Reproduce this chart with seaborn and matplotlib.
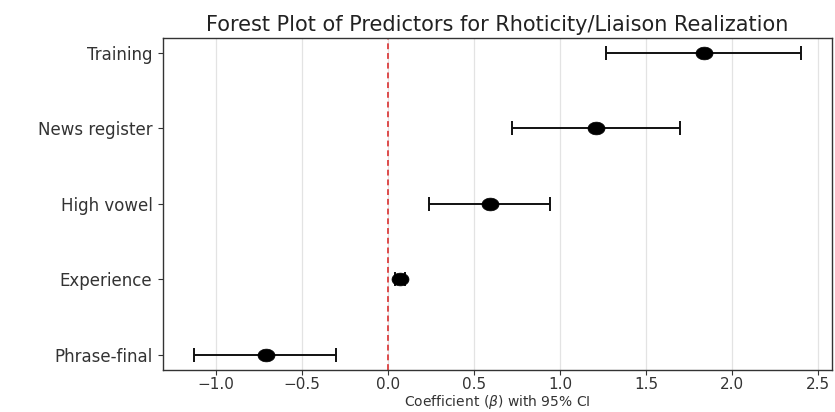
import numpy as np
import pandas as pd
import matplotlib
matplotlib.use("Agg")
import matplotlib.pyplot as plt
import seaborn as sns

# predictors, top to bottom as drawn
predictors = ["Training", "News register", "High vowel", "Experience", "Phrase-final"]
coef = [1.84, 1.21, 0.59, 0.07, -0.71]
ci_low = [1.27, 0.72, 0.24, 0.04, -1.13]
ci_high = [2.40, 1.70, 0.94, 0.10, -0.30]
x_ticks = [-1.0, -0.5, 0.0, 0.5, 1.0, 1.5, 2.0, 2.5]

df = pd.DataFrame({"predictor": predictors, "coef": coef,
                   "low": ci_low, "high": ci_high})
df["ypos"] = np.arange(len(df))[::-1]

sns.set_style("whitegrid")
plt.rcParams["font.family"] = ["DejaVu Sans"]

# slightly flattened dot, as in the source image
t = np.linspace(0, 2 * np.pi, 40)
ellipse = list(zip(np.cos(t), 0.75 * np.sin(t)))

fig = plt.figure(figsize=(8.35, 4.12), dpi=100)
ax = fig.add_axes([0.195, 0.102, 0.801, 0.806])

ax.errorbar(df["coef"], df["ypos"],
            xerr=[df["coef"] - df["low"], df["high"] - df["coef"]],
            fmt="none", ecolor="#111111", elinewidth=1.4, capsize=5, capthick=1.4, zorder=2)
sns.scatterplot(data=df, x="coef", y="ypos", color="black", s=150, marker=ellipse,
                edgecolor="black", linewidth=0.5, ax=ax, zorder=3, legend=False)
ax.axvline(0, color="#dd4b4b", linestyle=(0, (3, 2)), linewidth=1.4, zorder=1)

ax.set_yticks(df["ypos"])
ax.set_yticklabels(df["predictor"])
ax.set_xticks(x_ticks)
ax.set_xlim(-1.31, 2.58)
ax.set_ylim(-0.2, 4.2)
ax.grid(axis="y", visible=False)
ax.grid(axis="x", color="#e3e3e3", linewidth=0.9)
for s in ax.spines.values():
    s.set_color("#333333")
    s.set_linewidth(1.0)
ax.tick_params(axis="both", which="major", length=3.5, color="#333333",
               labelcolor="#333333", left=True, bottom=True)
ax.tick_params(axis="y", labelsize=12, pad=4)
ax.tick_params(axis="x", labelsize=11, pad=1.5)
ax.set_xlabel("Coefficient ($\\beta$) with 95% CI", fontsize=10, color="#333333", labelpad=1)
ax.set_ylabel("")
ax.set_title("Forest Plot of Predictors for Rhoticity/Liaison Realization",
             fontsize=15, color="#222222", pad=5)

fig.savefig("out.png", dpi=100)
